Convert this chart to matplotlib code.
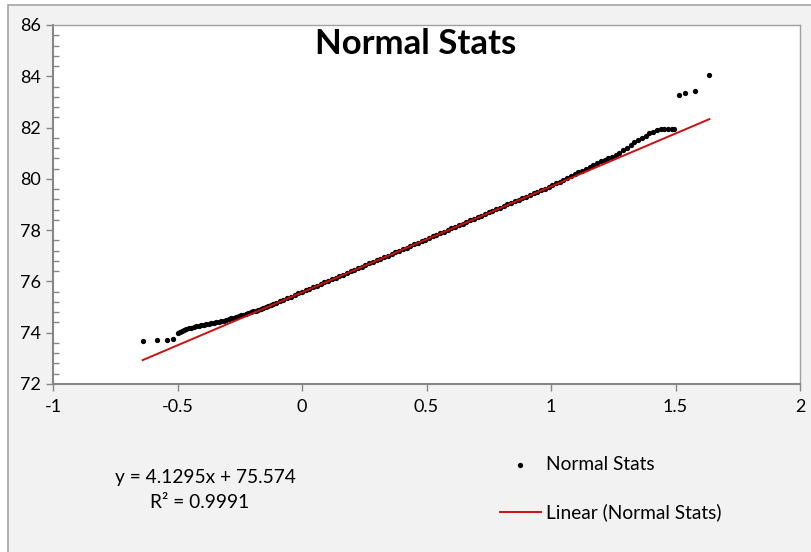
import matplotlib.pyplot as plt
from matplotlib.patches import Rectangle

# normal quantile (x) vs sorted value (y)
x_vals = [
    -0.640, -0.581, -0.544, -0.518,
    -0.497, -0.490, -0.483, -0.475, -0.465, -0.455, -0.445, -0.435, -0.425,
    -0.415, -0.405, -0.395, -0.385, -0.375, -0.365, -0.355, -0.345, -0.335,
    -0.325, -0.315, -0.305, -0.295, -0.285, -0.275, -0.265, -0.255, -0.245,
    -0.235, -0.225, -0.215, -0.205, -0.195, -0.185, -0.175, -0.165, -0.155,
    -0.145, -0.135, -0.125, -0.115, -0.105,
    -0.090, -0.075, -0.060, -0.045, -0.030, -0.015, 0.000, 0.015, 0.030,
    0.045, 0.060, 0.075, 0.090, 0.105, 0.120, 0.135, 0.150, 0.165, 0.180,
    0.195, 0.210, 0.225, 0.240, 0.255, 0.270, 0.285, 0.300, 0.315, 0.330,
    0.345, 0.360, 0.375, 0.390, 0.405, 0.420, 0.435, 0.450, 0.465, 0.480,
    0.495, 0.510, 0.525, 0.540, 0.555, 0.570, 0.585, 0.600, 0.615, 0.630,
    0.645, 0.660, 0.675, 0.690, 0.705, 0.720, 0.735, 0.750, 0.765, 0.780,
    0.795, 0.810, 0.825, 0.840, 0.855, 0.870, 0.885, 0.900, 0.915, 0.930,
    0.945, 0.960, 0.975, 0.990, 1.005, 1.020, 1.035, 1.050, 1.065, 1.080,
    1.095, 1.110, 1.125, 1.140, 1.155, 1.170, 1.185, 1.200, 1.215, 1.230,
    1.245, 1.260, 1.275, 1.290, 1.305, 1.320, 1.335, 1.350, 1.365, 1.380,
    1.395, 1.410, 1.425, 1.440, 1.455, 1.470, 1.485, 1.494,
    1.515, 1.539, 1.577, 1.636,
]
y_vals = [
    73.67, 73.71, 73.72, 73.76,
    74.00, 74.03, 74.06, 74.09, 74.13, 74.17, 74.20, 74.23, 74.25,
    74.27, 74.29, 74.31, 74.33, 74.34, 74.36, 74.38, 74.40, 74.42,
    74.44, 74.47, 74.50, 74.53, 74.56, 74.59, 74.62, 74.65, 74.68,
    74.71, 74.74, 74.77, 74.80, 74.83, 74.86, 74.90, 74.93, 74.97,
    75.01, 75.04, 75.08, 75.12, 75.16,
    75.22, 75.28, 75.34, 75.41, 75.47, 75.53, 75.59, 75.65, 75.71,
    75.78, 75.84, 75.90, 75.96, 76.02, 76.08, 76.15, 76.21, 76.27, 76.33,
    76.39, 76.45, 76.52, 76.58, 76.64, 76.70, 76.76, 76.83, 76.89, 76.95,
    77.01, 77.07, 77.14, 77.20, 77.26, 77.32, 77.38, 77.45, 77.51, 77.57,
    77.63, 77.69, 77.76, 77.82, 77.88, 77.94, 78.00, 78.07, 78.13, 78.19,
    78.25, 78.31, 78.38, 78.44, 78.50, 78.56, 78.62, 78.69, 78.75, 78.81,
    78.87, 78.93, 79.00, 79.06, 79.12, 79.18, 79.24, 79.31, 79.37, 79.43,
    79.49, 79.56, 79.62, 79.68, 79.75, 79.82, 79.89, 79.96, 80.03, 80.10,
    80.18, 80.26, 80.32, 80.39, 80.46, 80.54, 80.61, 80.68, 80.74, 80.80,
    80.87, 80.94, 81.02, 81.12, 81.22, 81.32, 81.43, 81.52, 81.61, 81.69,
    81.77, 81.84, 81.90, 81.96, 81.96, 81.96, 81.96, 81.96,
    83.26, 83.35, 83.41, 84.06,
]

# Excel trendline shown on the chart
slope = 4.1295
intercept = 75.574
r_squared = 0.9991

x_ticks = [-1, -0.5, 0, 0.5, 1, 1.5, 2]
x_tick_labels = ['-1', '-0.5', '0', '0.5', '1', '1.5', '2']
y_ticks = [72, 74, 76, 78, 80, 82, 84, 86]

W, H = 811, 552
plt.rcParams['font.family'] = ['Lato', 'DejaVu Sans']
fs = 13
fs_note = 13.8

fig = plt.figure(figsize=(W / 100, H / 100), dpi=100, facecolor='white')
fig.patches.append(Rectangle((8 / W, -0.1), 1.2, 1 - 5 / H + 0.1,
                             transform=fig.transFigure, facecolor='#f2f2f2',
                             edgecolor='#a6a6a6', linewidth=1.2, zorder=-5))

ax = fig.add_axes([53 / W, 1 - 384 / H, (800 - 53) / W, (384 - 25) / H])
ax.set_facecolor('white')

ax.plot(x_vals, y_vals, 'o', color='black', markersize=3.8,
        markeredgewidth=0, zorder=2)
x_line = [min(x_vals), max(x_vals)]
y_line = [slope * v + intercept for v in x_line]
ax.plot(x_line, y_line, color='#cc1010', linewidth=1.4, zorder=3)

ax.set_xlim(-1, 2)
ax.set_ylim(72, 86)
ax.set_xticks(x_ticks)
ax.set_xticklabels(x_tick_labels)
ax.set_yticks(y_ticks)
ax.set_yticks([72 + 0.4 * i for i in range(36)], minor=True)
ax.tick_params(axis='both', which='major', direction='out', length=5,
               width=1, color='#868686', labelsize=fs, labelcolor='black')
ax.tick_params(axis='x', pad=6)
ax.tick_params(axis='y', which='minor', direction='in', length=4,
               width=1, color='#868686')
for s in ax.spines.values():
    s.set_color('#a0a0a0')
    s.set_linewidth(1)
ax.spines['left'].set_color('#868686')
ax.spines['bottom'].set_color('#868686')
ax.spines['left'].set_linewidth(1.5)
ax.spines['bottom'].set_linewidth(1.5)

fig.text(416 / W, 1 - 44 / H, 'Normal Stats', ha='center', va='center',
         fontsize=25, fontweight='bold')

fig.text(205 / W, 1 - 478 / H, f'y = {slope}x + {intercept}', ha='center',
         va='center', fontsize=fs_note)
fig.text(200 / W, 1 - 502 / H, f'R\u00b2 = {r_squared}', ha='center',
         va='center', fontsize=fs_note)

# legend
fig.lines.append(plt.Line2D([520 / W], [1 - 465 / H], marker='o',
                            color='black', markersize=3.8, linestyle='none',
                            markeredgewidth=0, transform=fig.transFigure))
fig.text(546 / W, 1 - 465 / H, 'Normal Stats', ha='left', va='center',
         fontsize=fs_note)
fig.lines.append(plt.Line2D([500 / W, 541 / W], [1 - 512 / H, 1 - 512 / H],
                            color='#cc1010', linewidth=1.4,
                            transform=fig.transFigure))
fig.text(546 / W, 1 - 512 / H, 'Linear (Normal Stats)', ha='left',
         va='center', fontsize=fs_note)

fig.savefig('out.png', dpi=100)
